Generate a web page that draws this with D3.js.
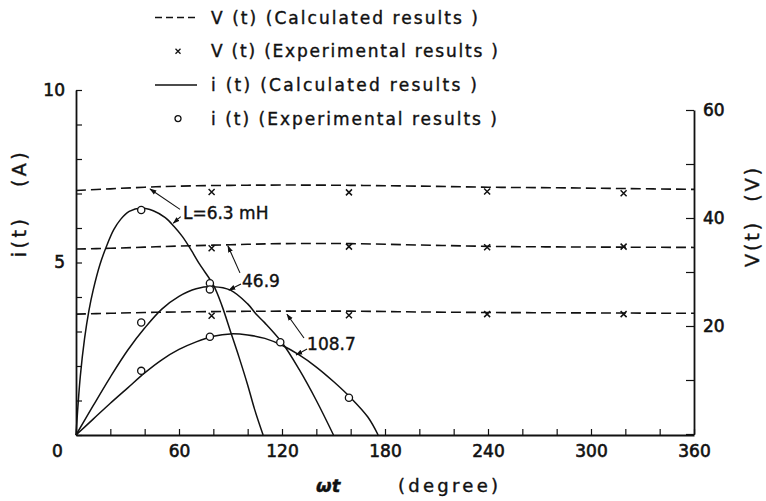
<!DOCTYPE html>
<html>
<head>
<meta charset="utf-8">
<script src="https://cdn.jsdelivr.net/npm/d3@7"></script>
<style>
  body { margin: 0; background: #fff; }
  svg { display: block; }
</style>
</head>
<body>
<svg id="chart" width="766" height="501"></svg>
<script>
// i(t) and V(t) for three inductances
// angles in degrees, currents in A (left axis), voltages in V (right axis)

const iCalc63 = [[0,0],[2.5,1.7],[5,2.8],[7.5,3.6],[10,4.2],[14,4.95],[18,5.5],[22,5.95],[26,6.25],[31,6.48],[38,6.58],[45,6.5],[52,6.3],[57,6.05],[62,5.75],[66,5.45],[72,4.95],[80,4.35],[85,3.75],[90,3.0],[95,2.25],[100,1.45],[104,0.75],[109,0]]
const iCalc469 = [[0,0],[10,0.85],[20,1.68],[30,2.45],[40,3.1],[50,3.65],[60,4.02],[70,4.24],[80,4.3],[90,4.2],[100,3.8],[105,3.5],[110,3.25],[120,2.68],[130,1.9],[140,1.0],[150,0]]
const iCalc1087 = [[0,0],[10,0.46],[20,0.92],[30,1.36],[40,1.8],[50,2.18],[60,2.48],[70,2.7],[80,2.86],[90,2.93],[100,2.9],[110,2.8],[120,2.6],[130,2.32],[140,1.97],[150,1.55],[160,1.08],[170,0.52],[176,0]]

const iExp = [[38,6.52],[78,4.4],[38,3.26],[78,4.22],[119,2.69],[38,1.86],[78,2.85],[159,1.08]]

const vCalcTop = [[0,45.1],[20,45.4],[40,45.7],[60,45.9],[90,46.05],[120,46.1],[160,46.05],[200,45.9],[240,45.7],[280,45.6],[320,45.45],[360,45.3]]
const vCalcMid = [[0,34.25],[20,34.4],[40,34.6],[60,34.8],[90,35.05],[120,35.25],[160,35.25],[200,35.0],[240,34.75],[280,34.65],[320,34.6],[360,34.55]]
const vCalcLow = [[0,22.2],[20,22.35],[40,22.5],[60,22.6],[90,22.7],[120,22.75],[160,22.75],[200,22.6],[240,22.5],[280,22.45],[320,22.4],[360,22.35]]

const vExp = [[79,44.8],[159,44.75],[239.5,44.9],[319,44.6],
              [79,34.4],[159,34.7],[239.5,34.6],[319,34.7],
              [79,21.9],[159,22.0],[239.5,22.2],[319,22.2]]

const xTicks = d3.range(0, 361, 20)
const xLabels = [0, 60, 120, 180, 240, 300, 360]
const iTicks = d3.range(0, 11, 1)
const iLabels = [5, 10]
const vTicks = d3.range(0, 61, 10)
const vLabels = [20, 40, 60]

const legendItems = [
    {kind: "dash", text: "V (t) (Calculated results )", len: 267},
    {kind: "cross", text: "V (t) (Experimental results )", len: 287},
    {kind: "line", text: "i (t) (Calculated results )", len: 266},
    {kind: "circle", text: "i (t) (Experimental results )", len: 286},
]

// labels with two arrows each, in (deg, A) units
const notes = [
    {text: "L=6.3 mH", at: [62.3, 6.43], arrows: [[[60.6, 6.54], [43.1, 7.13]], [[61, 6.33], [56.7, 6.14]]]},
    {text: "46.9", at: [96.7, 4.46], arrows: [[[95.5, 4.7], [88.5, 5.48]], [[96.1, 4.38], [89.1, 4.2]]]},
    {text: "108.7", at: [134.6, 2.65], arrows: [[[132.8, 2.81], [122.9, 3.5]], [[134.6, 2.49], [128.2, 2.32]]]},
]

const font = "DejaVu Sans"
const ink = "#111"

const svg = d3.select("#chart")
svg.append("rect").attr("width", 766).attr("height", 501).attr("fill", "white")

const x = d3.scaleLinear().domain([0, 360]).range([76, 694])
const yI = d3.scaleLinear().domain([0, 10]).range([435, 90])
const yV = d3.scaleLinear().domain([0, 60]).range([434, 110])

// arrow head
svg.append("defs").append("marker")
    .attr("id", "head")
    .attr("viewBox", "0 0 10 10")
    .attr("refX", 9).attr("refY", 5)
    .attr("markerWidth", 7).attr("markerHeight", 7)
    .attr("markerUnits", "userSpaceOnUse")
    .attr("orient", "auto")
    .append("path")
    .attr("d", "M0,1.5 L10,5 L0,8.5 Z")
    .attr("fill", ink)

// heavier print look for all text
function inked(sel, w) {
    return sel.attr("fill", ink).attr("stroke", ink).attr("stroke-width", w)
}

// axes
const bottomAxis = svg.append("g")
    .attr("transform", `translate(0,${yI(0)})`)
    .call(d3.axisBottom(x).tickValues(xTicks).tickSizeInner(-6).tickSizeOuter(0).tickPadding(10)
        .tickFormat(d => xLabels.includes(d) ? d : ""))
bottomAxis.selectAll("text").filter(d => d === 0).attr("x", -19)

const leftAxis = svg.append("g")
    .attr("transform", `translate(${x(0)},0)`)
    .call(d3.axisLeft(yI).tickValues(iTicks).tickSizeInner(-6).tickSizeOuter(0).tickPadding(11)
        .tickFormat(d => iLabels.includes(d) ? d : ""))

const rightAxis = svg.append("g")
    .attr("transform", `translate(${x(360)},0)`)
    .call(d3.axisRight(yV).tickValues(vTicks).tickSizeInner(-8).tickSizeOuter(0).tickPadding(9)
        .tickFormat(d => vLabels.includes(d) ? d : ""))

for (const ax of [bottomAxis, leftAxis, rightAxis]) {
    ax.attr("color", ink).attr("font-family", font).attr("font-size", 17)
    ax.select(".domain").attr("stroke-width", 1.8)
    ax.selectAll(".tick line").attr("stroke-width", 1.2)
    inked(ax.selectAll("text"), 0.6)
}

// axis titles
inked(svg.append("text"), 0.4)
    .attr("transform", `translate(19,${203}) rotate(-90)`)
    .attr("text-anchor", "middle").attr("dominant-baseline", "central")
    .attr("font-family", font).attr("font-size", 19)
    .style("letter-spacing", "3.5px")
    .style("white-space", "pre")
    .text("i(t)   (A)")

inked(svg.append("text"), 0.4)
    .attr("transform", `translate(752,${216}) rotate(-90)`)
    .attr("text-anchor", "middle").attr("dominant-baseline", "central")
    .attr("font-family", font).attr("font-size", 19)
    .style("letter-spacing", "3px")
    .style("white-space", "pre")
    .text("V(t)  (V)")

const xTitle = inked(svg.append("text"), 0.4)
    .attr("y", 492)
    .attr("font-family", font).attr("font-size", 18)
xTitle.append("tspan").attr("x", 316).attr("font-style", "italic").attr("font-weight", "bold").text("ωt")
xTitle.append("tspan").attr("x", 398).attr("textLength", 100).attr("lengthAdjust", "spacing").text("(degree)")

// curves
const lineI = d3.line().x(d => x(d[0])).y(d => yI(d[1])).curve(d3.curveCatmullRom.alpha(0.5))
const lineV = d3.line().x(d => x(d[0])).y(d => yV(d[1])).curve(d3.curveCatmullRom.alpha(0.5))

svg.append("g")
    .selectAll("path")
    .data([vCalcTop, vCalcMid, vCalcLow])
    .enter()
    .append("path")
    .attr("d", lineV)
    .attr("fill", "none")
    .attr("stroke", ink)
    .attr("stroke-width", 1.6)
    .attr("stroke-dasharray", "10,5")

svg.append("g")
    .selectAll("path")
    .data([iCalc63, iCalc469, iCalc1087])
    .enter()
    .append("path")
    .attr("d", lineI)
    .attr("fill", "none")
    .attr("stroke", ink)
    .attr("stroke-width", 1.5)

// experimental points
function crossPath(cx, cy, s) {
    return `M${cx - s},${cy - s}L${cx + s},${cy + s}M${cx - s},${cy + s}L${cx + s},${cy - s}`
}

svg.append("g")
    .selectAll("path")
    .data(vExp)
    .enter()
    .append("path")
    .attr("d", d => crossPath(x(d[0]), yV(d[1]), 3))
    .attr("stroke", ink)
    .attr("stroke-width", 1.5)

svg.append("g")
    .selectAll("circle")
    .data(iExp)
    .enter()
    .append("circle")
    .attr("cx", d => x(d[0]))
    .attr("cy", d => yI(d[1]))
    .attr("r", 3.6)
    .attr("fill", "white")
    .attr("stroke", ink)
    .attr("stroke-width", 1.3)

// annotations
const noteG = svg.append("g")
for (const n of notes) {
    inked(noteG.append("text"), 0.4)
        .attr("x", x(n.at[0])).attr("y", yI(n.at[1]))
        .attr("dominant-baseline", "central")
        .attr("font-family", font).attr("font-size", 17)
        .text(n.text)
    for (const a of n.arrows) {
        noteG.append("line")
            .attr("x1", x(a[0][0])).attr("y1", yI(a[0][1]))
            .attr("x2", x(a[1][0])).attr("y2", yI(a[1][1]))
            .attr("stroke", ink).attr("stroke-width", 1.1)
            .attr("marker-end", "url(#head)")
    }
}

// legend
const legend = svg.append("g").attr("transform", "translate(155,17.5)")
const rows = legend.selectAll("g")
    .data(legendItems)
    .enter()
    .append("g")
    .attr("transform", (d, i) => `translate(0,${i * 33.7})`)

rows.filter(d => d.kind === "dash").append("line")
    .attr("x1", 0).attr("x2", 42).attr("stroke", ink).attr("stroke-width", 1.5).attr("stroke-dasharray", "7,4")
rows.filter(d => d.kind === "line").append("line")
    .attr("x1", 0).attr("x2", 42).attr("stroke", ink).attr("stroke-width", 1.5)
rows.filter(d => d.kind === "cross").append("path")
    .attr("d", crossPath(23, 0, 2.5)).attr("stroke", ink).attr("stroke-width", 1.3)
rows.filter(d => d.kind === "circle").append("circle")
    .attr("cx", 23).attr("r", 3).attr("fill", "white").attr("stroke", ink).attr("stroke-width", 1.3)

inked(rows.append("text"), 0.4)
    .attr("x", 56)
    .attr("dominant-baseline", "central")
    .attr("font-family", font).attr("font-size", 17)
    .attr("textLength", d => d.len).attr("lengthAdjust", "spacing")
    .text(d => d.text)
</script>
</body>
</html>
